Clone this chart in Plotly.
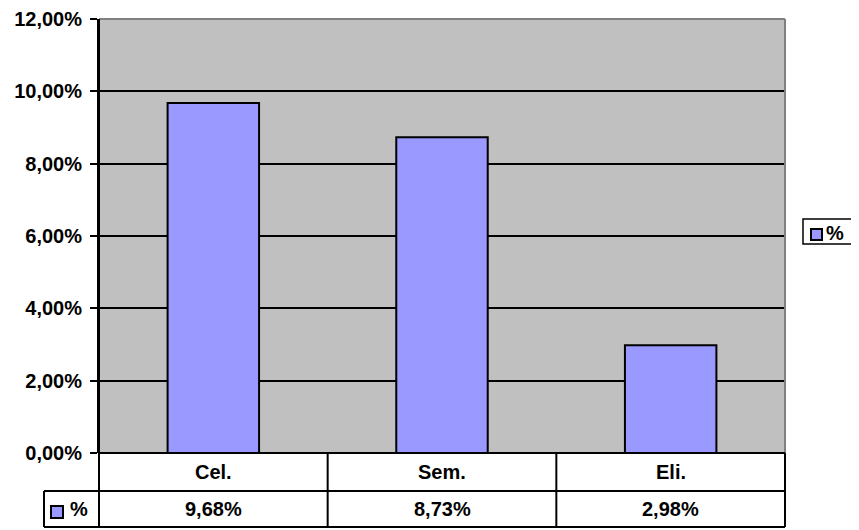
import plotly.graph_objects as go

# chart data
categories = ["Cel.", "Sem.", "Eli."]
values = [0.0968, 0.0873, 0.0298]
series_name = "%"

# the page body adds an 8px margin, so draw the figure 8px smaller and shift
OFF = 8
W, H = 859 - OFF, 530 - OFF
BAR_COLOR = "#9999FF"
FONT = dict(family="Arial, Liberation Sans, sans-serif", size=20, color="black", weight="bold")


def px(x):
    return (x - OFF) / W


def py(y):
    return 1 - (y - OFF) / H


def fmt(v):
    return f"{v * 100:.2f}%".replace(".", ",")


# plot area in screen pixels
L, R, T, B = 99, 785, 19, 453
ROW1, ROW2 = 491, 527
LEG_L = 44

fig = go.Figure()
fig.add_bar(
    x=categories,
    y=values,
    name=series_name,
    width=0.4,
    marker=dict(color=BAR_COLOR, line=dict(color="black", width=2)),
)

fig.update_layout(
    width=W,
    height=H,
    margin=dict(l=0, r=0, t=0, b=0),
    paper_bgcolor="white",
    plot_bgcolor="#C0C0C0",
    separators=",.",
    font=FONT,
    showlegend=False,
    xaxis=dict(
        domain=[px(L), px(R)],
        showticklabels=False,
        showgrid=False,
        zeroline=False,
        ticks="",
        automargin=False,
    ),
    yaxis=dict(
        domain=[py(B), py(T)],
        range=[0, 0.12],
        dtick=0.02,
        tickformat=".2%",
        showgrid=True,
        gridcolor="black",
        gridwidth=2,
        zeroline=False,
        showline=True,
        linecolor="black",
        linewidth=2,
        ticks="outside",
        ticklen=7,
        tickwidth=2,
        tickcolor="black",
        tickfont=FONT,
        ticklabelstandoff=4,
        automargin=False,
    ),
)

shapes = []


def hline(y, x0, x1, color="black", w=2):
    shapes.append(dict(type="line", xref="paper", yref="paper",
                       x0=px(x0), x1=px(x1), y0=py(y), y1=py(y),
                       line=dict(color=color, width=w)))


def vline(x, y0, y1, color="black", w=2):
    shapes.append(dict(type="line", xref="paper", yref="paper",
                       x0=px(x), x1=px(x), y0=py(y0), y1=py(y1),
                       line=dict(color=color, width=w)))


def rect(x0, y0, x1, y1, fill, w=1.5):
    shapes.append(dict(type="rect", xref="paper", yref="paper",
                       x0=px(x0), x1=px(x1), y0=py(y1), y1=py(y0),
                       fillcolor=fill, line=dict(color="black", width=w)))


# gray border of plot area (top, right)
hline(T, L, R, color="#808080", w=2)
vline(R, T, B, color="#808080", w=2)

# data table grid
hline(B, L, R)
hline(ROW1, LEG_L, R)
hline(ROW2, LEG_L, R)
vline(LEG_L, ROW1, ROW2)
vline(L, T, ROW2)
col_w = (R - L) / len(categories)
for i in range(1, len(categories) + 1):
    vline(L + col_w * i, B, ROW2)

# legend key in the table
rect(51, 506, 63, 518, BAR_COLOR, w=2)

# legend box on the right
rect(803, 219, 853, 244, "white", w=1.5)
rect(811, 229, 822, 240, BAR_COLOR, w=2)
fig.update_layout(shapes=shapes)

annotations = [
    dict(xref="paper", yref="paper", x=px(68), y=py((ROW1 + ROW2) / 2),
         text=series_name, showarrow=False, xanchor="left", yanchor="middle", font=FONT),
    dict(xref="paper", yref="paper", x=px(824), y=py(233),
         text=series_name, showarrow=False, xanchor="left", yanchor="middle", font=FONT),
]
for cat, v in zip(categories, values):
    annotations.append(dict(xref="x", yref="paper", x=cat, y=py((B + ROW1) / 2),
                            text=cat, showarrow=False, yanchor="middle", font=FONT))
    annotations.append(dict(xref="x", yref="paper", x=cat, y=py((ROW1 + ROW2) / 2),
                            text=fmt(v), showarrow=False, yanchor="middle", font=FONT))
fig.update_layout(annotations=annotations)

fig.write_html("out.html")
